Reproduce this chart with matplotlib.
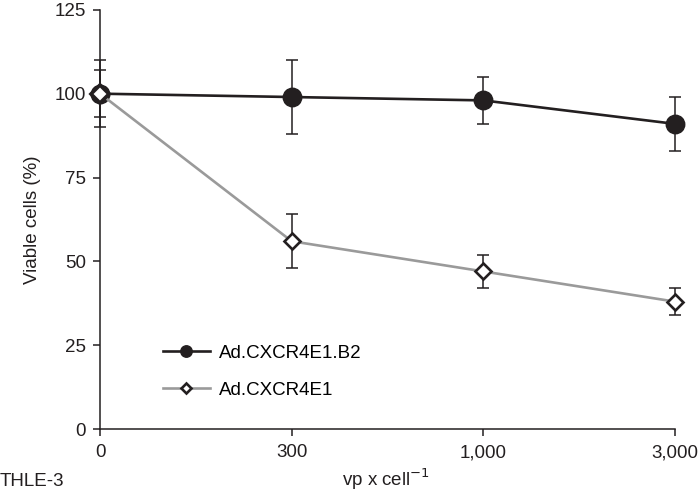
import matplotlib
matplotlib.use('Agg')
import matplotlib.pyplot as plt
import numpy as np

plt.rcParams['font.family'] = ['Liberation Sans', 'DejaVu Sans']

# ── Data ──────────────────────────────────────────────────────────────────────
doses = ['0', '300', '1,000', '3,000']
b2_mean = [100, 99, 98, 91]
b2_err = [10, 11, 7, 8]
e1_mean = [100, 56, 47, 38]
e1_err = [7, 8, 5, 4]

b2_label = 'Ad.CXCR4E1.B2'
e1_label = 'Ad.CXCR4E1'

FS = 13.5
INK = '#231f20'

# ── Plot ──────────────────────────────────────────────────────────────────────
fig = plt.figure(figsize=(7.0, 4.92), dpi=100)
ax = fig.add_axes([0.143, 0.128, 0.821, 0.852])

x = np.arange(len(doses))

ax.errorbar(x, b2_mean, yerr=b2_err, fmt='none', ecolor=INK,
            elinewidth=1.1, capsize=4, capthick=1.1, zorder=2, clip_on=False)
ax.errorbar(x, e1_mean, yerr=e1_err, fmt='none', ecolor=INK,
            elinewidth=1.1, capsize=4, capthick=1.1, zorder=2, clip_on=False)

ax.plot(x, e1_mean, color='#9a9a9a', lw=1.9, marker='D', ms=8.6,
        mfc='white', mec=INK, mew=1.9, label=e1_label, zorder=4,
        clip_on=False)
ax.plot(x, b2_mean, color=INK, lw=1.9, marker='o', ms=13.3,
        mfc=INK, mec=INK, label=b2_label, zorder=3, clip_on=False)
# diamond at dose 0 sits on top of the circle
ax.plot(x[:1], e1_mean[:1], ls='none', marker='D', ms=9, mfc='white',
        mec=INK, mew=2.6, zorder=5, clip_on=False)

ax.set_xlim(0, 3)
ax.set_ylim(0, 125)
ax.set_xticks(x)
ax.set_xticklabels(doses)
ax.set_yticks([0, 25, 50, 75, 100, 125])

for s in ('top', 'right'):
    ax.spines[s].set_visible(False)
for s in ('left', 'bottom'):
    ax.spines[s].set_linewidth(1.1)
    ax.spines[s].set_color(INK)
ax.tick_params(direction='out', length=5, width=1.1, color=INK,
               labelsize=FS, labelcolor=INK)
ax.tick_params(axis='x', pad=6)
ax.tick_params(axis='y', pad=5)

ax.set_ylabel('Viable cells (%)', fontsize=FS, color=INK, labelpad=10)
fig.text(0.552, 0.013, 'vp x cell$^{-1}$', ha='center', va='baseline',
         fontsize=FS, color=INK)
fig.text(0.0, 0.013, 'THLE-3', ha='left', va='baseline',
         fontsize=FS, color=INK)

handles, labels = ax.get_legend_handles_labels()
ax.legend(handles[::-1], labels[::-1], loc='lower left',
          bbox_to_anchor=(0.08, 0.032), frameon=False, fontsize=FS,
          handlelength=2.5, labelspacing=1.05, handletextpad=0.5,
          markerscale=0.62)

fig.savefig('out.png', dpi=100)
